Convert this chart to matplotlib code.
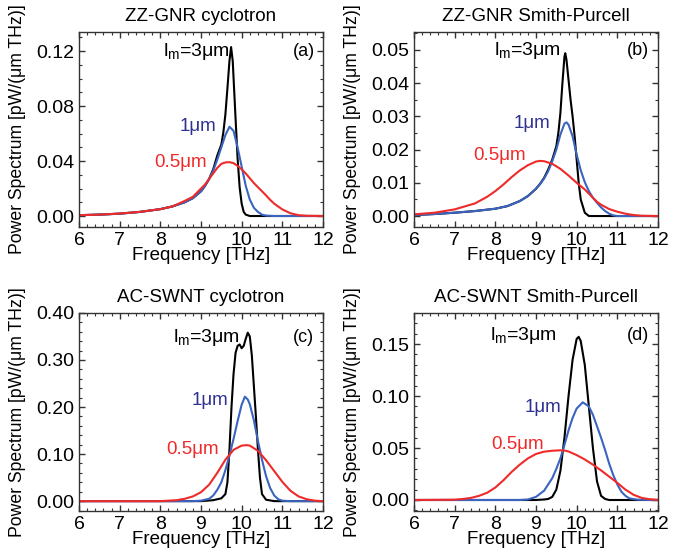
import matplotlib
matplotlib.use('Agg')
import matplotlib.pyplot as plt
from matplotlib.ticker import MultipleLocator, FormatStrFormatter

plt.rcParams['font.family'] = ['Liberation Sans', 'DejaVu Sans']
plt.rcParams['mathtext.fontset'] = 'custom'
plt.rcParams['mathtext.rm'] = 'Liberation Sans'
plt.rcParams['mathtext.it'] = 'Liberation Sans'

# (a) ZZ-GNR cyclotron
fa3 = [6.0, 6.5, 7.0, 7.5, 8.0, 8.3, 8.6, 8.8, 9.0, 9.1, 9.2, 9.3, 9.4, 9.5, 9.55, 9.6, 9.65, 9.7, 9.74, 9.78, 9.8, 9.85, 9.9, 9.95, 10.0, 10.05, 10.1, 10.2, 10.5, 12.0]
pa3 = [0.0006, 0.001, 0.0017, 0.003, 0.005, 0.007, 0.010, 0.013, 0.018, 0.022, 0.027, 0.034, 0.044, 0.052, 0.061, 0.074, 0.093, 0.113, 0.123, 0.113, 0.101, 0.071, 0.042, 0.021, 0.009, 0.003, 0.001, 0.0, 0.0, 0.0]
fa1 = [6.0, 6.5, 7.0, 7.5, 8.0, 8.3, 8.6, 8.8, 9.0, 9.1, 9.2, 9.3, 9.4, 9.5, 9.6, 9.7, 9.8, 9.9, 10.0, 10.1, 10.2, 10.3, 10.4, 10.5, 10.6, 10.8, 12.0]
pa1 = [0.0006, 0.001, 0.0017, 0.003, 0.005, 0.007, 0.010, 0.013, 0.018, 0.022, 0.027, 0.033, 0.041, 0.050, 0.059, 0.065, 0.062, 0.050, 0.036, 0.022, 0.012, 0.006, 0.003, 0.001, 0.0003, 0.0, 0.0]
fa05 = [6.0, 6.5, 7.0, 7.5, 8.0, 8.3, 8.6, 8.8, 9.0, 9.1, 9.2, 9.3, 9.4, 9.5, 9.6, 9.7, 9.8, 9.9, 10.0, 10.1, 10.2, 10.3, 10.4, 10.5, 10.6, 10.7, 10.8, 11.0, 11.2, 11.4, 11.6, 12.0]
pa05 = [0.0006, 0.001, 0.0018, 0.003, 0.005, 0.007, 0.011, 0.014, 0.020, 0.023, 0.027, 0.031, 0.035, 0.038, 0.039, 0.0392, 0.0385, 0.0365, 0.034, 0.031, 0.0275, 0.024, 0.021, 0.0180, 0.015, 0.0118, 0.009, 0.0048, 0.002, 0.0006, 0.0002, 0.0]

# (b) ZZ-GNR Smith-Purcell
fb3 = [6.0, 6.5, 7.0, 7.5, 8.0, 8.3, 8.6, 8.8, 9.0, 9.1, 9.2, 9.3, 9.4, 9.5, 9.55, 9.6, 9.65, 9.7, 9.72, 9.75, 9.8, 9.85, 9.9, 9.95, 10.0, 10.05, 10.1, 10.2, 10.3, 12.0]
pb3 = [0.0003, 0.0006, 0.001, 0.0015, 0.0022, 0.003, 0.0045, 0.006, 0.0082, 0.0097, 0.0115, 0.014, 0.017, 0.021, 0.025, 0.031, 0.040, 0.048, 0.049, 0.047, 0.041, 0.035, 0.030, 0.024, 0.017, 0.010, 0.005, 0.001, 0.0, 0.0]
fb1 = [6.0, 6.5, 7.0, 7.5, 8.0, 8.3, 8.6, 8.8, 9.0, 9.1, 9.2, 9.3, 9.4, 9.5, 9.6, 9.7, 9.75, 9.8, 9.9, 10.0, 10.1, 10.2, 10.3, 10.4, 10.5, 10.6, 10.7, 10.8, 10.9, 11.0, 12.0]
pb1 = [0.0003, 0.0006, 0.001, 0.0015, 0.0022, 0.003, 0.0045, 0.006, 0.0082, 0.0096, 0.0113, 0.0135, 0.0165, 0.020, 0.0245, 0.0278, 0.0282, 0.0275, 0.024, 0.0185, 0.0138, 0.0102, 0.0075, 0.0055, 0.0040, 0.0026, 0.0015, 0.0007, 0.0002, 0.0, 0.0]
fb05 = [6.0, 6.5, 7.0, 7.5, 7.8, 8.0, 8.2, 8.4, 8.6, 8.8, 9.0, 9.1, 9.2, 9.4, 9.6, 9.8, 10.0, 10.2, 10.4, 10.5, 10.6, 10.8, 11.0, 11.2, 11.4, 11.6, 12.0]
pb05 = [0.0005, 0.001, 0.002, 0.0038, 0.0058, 0.0075, 0.0095, 0.0117, 0.0137, 0.0153, 0.0164, 0.0166, 0.0165, 0.0157, 0.0142, 0.0122, 0.0100, 0.0080, 0.0055, 0.0043, 0.0034, 0.0021, 0.0013, 0.0007, 0.0003, 0.0001, 0.0]

# (c) AC-SWNT cyclotron
fc3 = [6.0, 9.0, 9.3, 9.5, 9.6, 9.65, 9.7, 9.75, 9.8, 9.85, 9.9, 9.95, 10.0, 10.05, 10.1, 10.15, 10.2, 10.25, 10.3, 10.35, 10.4, 10.45, 10.5, 10.6, 10.8, 12.0]
pc3 = [0.0, 0.0, 0.002, 0.006, 0.015, 0.04, 0.11, 0.20, 0.27, 0.315, 0.330, 0.333, 0.325, 0.330, 0.345, 0.358, 0.350, 0.310, 0.245, 0.180, 0.110, 0.050, 0.015, 0.003, 0.0, 0.0]
fc1 = [6.0, 8.8, 9.0, 9.2, 9.3, 9.4, 9.5, 9.6, 9.7, 9.8, 9.9, 10.0, 10.08, 10.15, 10.2, 10.3, 10.4, 10.5, 10.6, 10.7, 10.8, 10.9, 11.0, 11.2, 12.0]
pc1 = [0.0, 0.0, 0.001, 0.005, 0.012, 0.024, 0.040, 0.066, 0.097, 0.132, 0.170, 0.205, 0.222, 0.216, 0.206, 0.172, 0.128, 0.088, 0.053, 0.028, 0.012, 0.004, 0.001, 0.0, 0.0]
fc05 = [6.0, 8.0, 8.4, 8.6, 8.8, 9.0, 9.2, 9.4, 9.6, 9.8, 10.0, 10.12, 10.2, 10.4, 10.6, 10.8, 11.0, 11.2, 11.4, 11.6, 11.8, 12.0]
pc05 = [0.0, 0.0, 0.002, 0.005, 0.010, 0.019, 0.035, 0.060, 0.088, 0.109, 0.118, 0.119, 0.118, 0.107, 0.087, 0.064, 0.041, 0.022, 0.010, 0.004, 0.001, 0.0]

# (d) AC-SWNT Smith-Purcell
fd3 = [6.0, 9.0, 9.2, 9.3, 9.4, 9.5, 9.6, 9.7, 9.8, 9.9, 10.0, 10.05, 10.1, 10.2, 10.3, 10.4, 10.5, 10.6, 10.7, 10.8, 12.0]
pd3 = [0.0, 0.0, 0.0005, 0.001, 0.003, 0.010, 0.028, 0.060, 0.100, 0.135, 0.155, 0.157, 0.153, 0.130, 0.090, 0.050, 0.018, 0.004, 0.001, 0.0, 0.0]
fd1 = [6.0, 8.6, 8.8, 9.0, 9.2, 9.4, 9.5, 9.6, 9.7, 9.8, 9.9, 10.0, 10.15, 10.3, 10.4, 10.5, 10.6, 10.7, 10.8, 10.9, 11.0, 11.1, 11.2, 11.3, 11.5, 11.8, 12.0]
pd1 = [0.0, 0.0, 0.0005, 0.003, 0.009, 0.021, 0.030, 0.040, 0.053, 0.067, 0.079, 0.088, 0.094, 0.090, 0.082, 0.071, 0.060, 0.048, 0.035, 0.024, 0.015, 0.008, 0.004, 0.0015, 0.0003, 0.0, 0.0]
fd05 = [6.0, 7.0, 7.2, 7.4, 7.6, 7.8, 8.0, 8.2, 8.4, 8.6, 8.8, 9.0, 9.2, 9.4, 9.6, 9.7, 9.8, 10.0, 10.2, 10.4, 10.6, 10.8, 11.0, 11.2, 11.4, 11.6, 11.8, 12.0]
pd05 = [0.0, 0.0003, 0.001, 0.002, 0.004, 0.007, 0.012, 0.019, 0.027, 0.034, 0.040, 0.0443, 0.0465, 0.0474, 0.0478, 0.0476, 0.0467, 0.0432, 0.039, 0.034, 0.0285, 0.0225, 0.0165, 0.010, 0.005, 0.002, 0.0007, 0.0002]

titles = ['ZZ-GNR cyclotron', 'ZZ-GNR Smith-Purcell', 'AC-SWNT cyclotron', 'AC-SWNT Smith-Purcell']
tags = ['(a)', '(b)', '(c)', '(d)']
ylims = [(-0.008, 0.134), (-0.0033, 0.0554), (-0.021, 0.40), (-0.0106, 0.180)]
ymajor = [0.04, 0.01, 0.10, 0.05]
yminor = [0.01, 0.005, 0.02, 0.01]

BLACK = 'black'
BLUE = '#3a64c0'
RED = '#ee2a2a'
BLUE_TXT = '#2e3192'

fig = plt.figure(figsize=(6.9, 5.58), dpi=100)
rects = [[0.1145, 0.5932, 0.3536, 0.3495], [0.6, 0.5932, 0.3536, 0.3495],
         [0.1145, 0.0842, 0.3536, 0.355], [0.6, 0.0842, 0.3536, 0.355]]
# text positions in axes fraction: (lm label, 1um, 0.5um, tag)
txtpos = [[(0.344, 0.899), (0.414, 0.514), (0.307, 0.332), (0.877, 0.899)],
          [(0.329, 0.903), (0.407, 0.531), (0.243, 0.369), (0.872, 0.903)],
          [(0.387, 0.877), (0.462, 0.557), (0.359, 0.313), (0.876, 0.877)],
          [(0.311, 0.885), (0.455, 0.524), (0.318, 0.335), (0.872, 0.885)]]

data = [(fa3, pa3, fa1, pa1, fa05, pa05),
        (fb3, pb3, fb1, pb1, fb05, pb05),
        (fc3, pc3, fc1, pc1, fc05, pc05),
        (fd3, pd3, fd1, pd1, fd05, pd05)]

for i in range(4):
    ax = fig.add_axes(rects[i])
    f3, p3, f1, p1, f05, p05 = data[i]
    ax.plot(f3, p3, c=BLACK, lw=1.5)
    ax.plot(f1, p1, c=BLUE, lw=1.5)
    ax.plot(f05, p05, c=RED, lw=1.5)
    ax.set_xlim(6, 12)
    ax.set_ylim(*ylims[i])
    ax.xaxis.set_major_locator(MultipleLocator(1))
    ax.xaxis.set_minor_locator(MultipleLocator(0.2))
    ax.yaxis.set_major_locator(MultipleLocator(ymajor[i]))
    ax.yaxis.set_minor_locator(MultipleLocator(yminor[i]))
    ax.yaxis.set_major_formatter(FormatStrFormatter('%.2f'))
    ax.tick_params(which='both', direction='in', top=True, right=True, labelsize=14, colors='#333333', labelcolor='black')
    ax.tick_params(which='major', length=4, width=1)
    ax.tick_params(which='minor', length=2, width=0.8)
    for s in ax.spines.values():
        s.set_linewidth(1.0)
        s.set_color('#333333')
    ax.set_title(titles[i], fontsize=13.5, pad=8)
    ax.set_xlabel('Frequency [THz]', fontsize=13.5, labelpad=-1)
    ax.set_ylabel('Power Spectrum [pW/(μm THz)]', fontsize=12.7, labelpad=7)
    tp = txtpos[i]
    ax.text(tp[0][0], tp[0][1], r'l$_{\mathrm{m}}$=3μm', transform=ax.transAxes, fontsize=14, color=BLACK, ha='left', va='center')
    ax.text(tp[1][0], tp[1][1], '1μm', transform=ax.transAxes, fontsize=13.5, color=BLUE_TXT, ha='left', va='center')
    ax.text(tp[2][0], tp[2][1], '0.5μm', transform=ax.transAxes, fontsize=13.5, color=RED, ha='left', va='center')
    ax.text(tp[3][0], tp[3][1], tags[i], transform=ax.transAxes, fontsize=13, color=BLACK, ha='left', va='center')

plt.savefig('out.png', dpi=100)
